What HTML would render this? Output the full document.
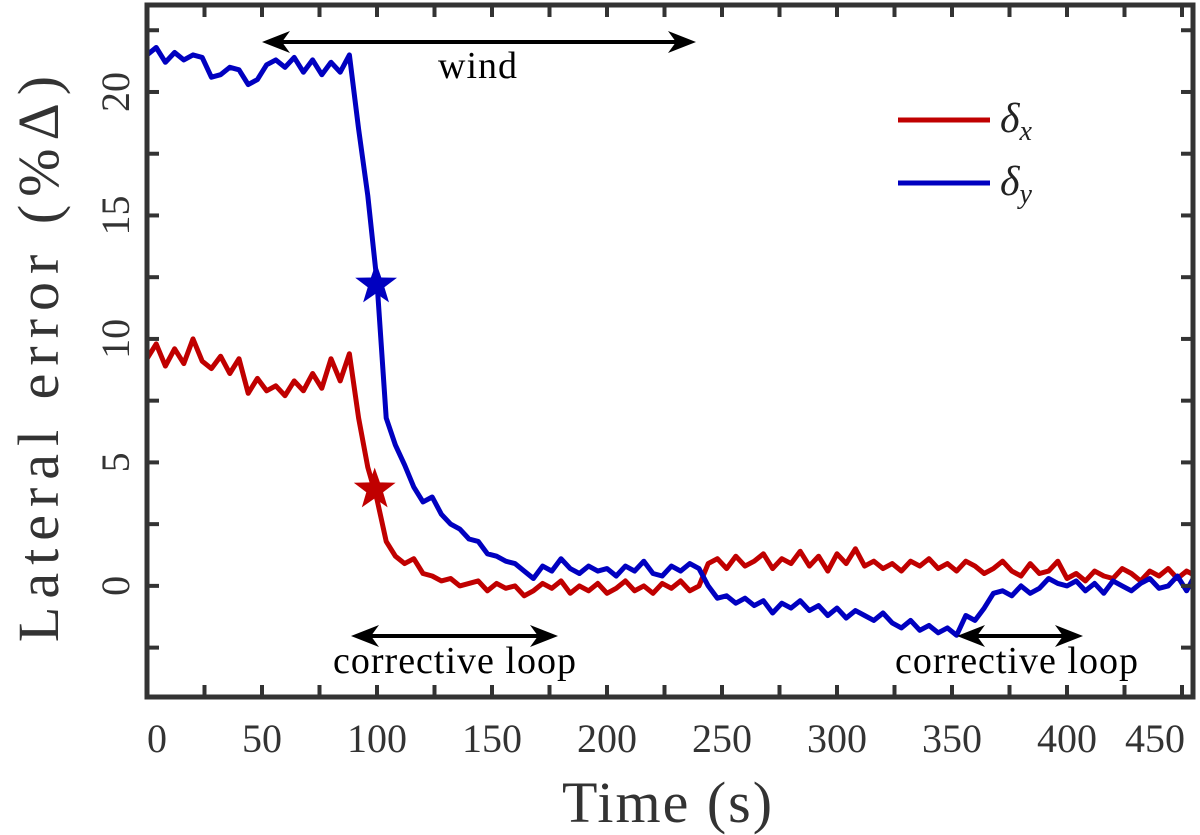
<!DOCTYPE html>
<html><head><meta charset="utf-8"><style>
html,body{margin:0;padding:0;background:#fff;}
svg, svg text{font-family:"Liberation Serif","DejaVu Serif",serif;}
svg{display:block;}
</style></head><body>
<svg id="chart" width="1200" height="835" viewBox="0 0 1200 835">
<defs><clipPath id="clip"><rect x="147" y="5" width="1046" height="692"/></clipPath></defs>
<g id="marks" clip-path="url(#clip)"></g>
<g id="axes"></g>
<g id="annot"></g>
</svg>
<script>
const tickX = [0,50,100,150,200,250,300,350,400,450];
const tickY = [0,5,10,15,20];
const stepT = 4;
const deltaY = [21.5,21.8,21.2,21.6,21.3,21.5,21.4,
20.6,20.7,21.0,20.9,20.3,20.5,21.1,
21.3,21.0,21.4,20.8,21.3,20.7,21.2,20.8,21.5,
18.5,15.8,12.3,6.8,5.7,4.9,4.0,3.4,3.6,2.9,2.5,2.3,1.9,1.8,1.3,1.2,1.0,0.9,0.6,0.3,0.8,0.6,1.1,0.7,0.5,0.8,0.6,0.7,0.4,0.8,0.6,1.0,0.5,0.4,0.8,0.6,0.9,0.7,
0.0,-0.5,-0.4,-0.7,-0.5,-0.8,-0.6,-1.1,-0.7,-0.9,-0.6,-1.0,-0.8,-1.2,-0.9,-1.3,-1.0,-1.2,-1.4,-1.1,-1.5,-1.7,-1.4,-1.8,-1.6,-1.9,-1.7,-2.0,
-1.2,-1.4,-0.9,-0.3,-0.2,-0.4,0.0,-0.3,-0.1,0.3,0.1,0.0,0.2,-0.2,0.1,-0.3,0.2,0.0,-0.2,0.1,0.3,-0.1,0.0,0.4,-0.2,0.5,0.1,-0.3,-0.7];
const deltaX = [9.2,9.8,8.9,9.6,9.0,10.0,9.1,
8.8,9.3,8.6,9.2,7.8,8.4,7.9,
8.1,7.7,8.3,7.9,8.6,8.0,9.2,8.3,9.4,
6.8,4.8,3.5,1.8,1.2,0.9,1.1,0.5,0.4,0.2,0.3,0.0,0.1,0.2,-0.2,0.1,-0.1,0.0,-0.4,-0.2,0.1,-0.1,0.2,-0.3,0.0,-0.2,0.1,-0.3,-0.1,0.2,-0.2,0.0,-0.3,0.1,-0.1,0.2,-0.2,0.0,
0.9,1.1,0.7,1.2,0.8,1.0,1.3,0.7,1.1,0.9,1.4,0.8,1.2,0.6,1.3,0.9,1.5,0.8,1.0,0.7,0.9,0.6,1.0,0.8,1.1,0.7,0.9,0.6,
1.0,0.8,0.5,0.7,1.0,0.6,0.4,0.9,0.5,0.6,1.0,0.3,0.5,0.2,0.6,0.4,0.3,0.7,0.5,0.2,0.6,0.4,0.7,0.3,0.6,0.4,0.7,0.5,0.2];
const starPoints = [[99.6,12.2,'#0000c0'],[99,3.9,'#c00000']];

const L=147,R=1193,T=5,B=697,X0=0,X1=(R-L)/2.3,Y0=-4.5,Y1=(586-5)/24.7;
const sx=t=>L+(t-X0)/(X1-X0)*(R-L);
const sy=v=>B-(v-Y0)/(Y1-Y0)*(B-T);
const NS='http://www.w3.org/2000/svg';
const FF='"Liberation Serif","DejaVu Serif",serif';
function mk(tag,attrs,parent,text){const e=document.createElementNS(NS,tag);for(const k in attrs)e.setAttribute(k,attrs[k]);if(tag==='text')e.setAttribute('font-family',FF);if(text!==undefined)e.textContent=text;parent.appendChild(e);return e;}
const marks=document.getElementById('marks'),axes=document.getElementById('axes'),annot=document.getElementById('annot');

function series(vals,color,name){
  const d=vals.map((v,i)=>(i?'L':'M')+sx(i*stepT).toFixed(1)+','+sy(v).toFixed(1)).join('');
  const p=mk('path',{d:d,fill:'none',stroke:color,'stroke-width':5,'stroke-linejoin':'round'},marks);
  
  
}
series(deltaX,'#c00000','delta-x-line');
series(deltaY,'#0000c0','delta-y-line');

function starPath(cx,cy,r){let s='';for(let i=0;i<10;i++){const a=-Math.PI/2+i*Math.PI/5;const rr=i%2?r*0.4:r;s+=(i?'L':'M')+(cx+rr*Math.cos(a)).toFixed(1)+','+(cy+rr*Math.sin(a)).toFixed(1);}return s+'Z';}
starPoints.forEach((s,i)=>{
  const p=mk('path',{d:starPath(sx(s[0]),sy(s[1]),22),fill:s[2]},marks);
  
  
});

const box=mk('rect',{x:L,y:T,width:R-L,height:B-T,fill:'none',stroke:'#333','stroke-width':5},axes);


for(let t=0;t<=X1;t+=25){const x=sx(t);mk('line',{x1:x,y1:B,x2:x,y2:B-12,stroke:'#333','stroke-width':4},axes);mk('line',{x1:x,y1:T,x2:x,y2:T+12,stroke:'#333','stroke-width':4},axes);}
for(let v=-2.5;v<=Y1;v+=2.5){const y=sy(v);mk('line',{x1:L,y1:y,x2:L+12,y2:y,stroke:'#333','stroke-width':4},axes);mk('line',{x1:R,y1:y,x2:R-12,y2:y,stroke:'#333','stroke-width':4},axes);}
tickX.forEach(t=>{
  let x=sx(t); if(t===0)x+=10; if(t===450)x=1155;
  const e=mk('text',{x:x,y:752,'text-anchor':'middle','font-size':40,fill:'#333'},axes,String(t));
  
  
});
tickY.forEach(v=>{
  const y=sy(v);
  const e=mk('text',{x:0,y:0,transform:`translate(129,${y}) rotate(-90)`,'text-anchor':'middle','font-size':40,fill:'#333'},axes,String(v));
  
  
});
const xt=mk('text',{x:668,y:822,'text-anchor':'middle','font-size':58,'letter-spacing':2,fill:'#333'},axes,'Time (s)');


const yt=mk('text',{x:0,y:0,transform:'translate(58,355) rotate(-90)','text-anchor':'middle','font-size':58,'letter-spacing':8,fill:'#333'},axes,'Lateral error (%Δ)');



function arrow(x1,x2,y,name){
  const g=mk('g',{},annot);
  
  
  mk('line',{x1:x1+8,y1:y,x2:x2-8,y2:y,stroke:'#000','stroke-width':4},g);
  mk('path',{d:`M${x1},${y}L${x1+28},${y-11}L${x1+20},${y}L${x1+28},${y+11}Z`,fill:'#000'},g);
  mk('path',{d:`M${x2},${y}L${x2-28},${y-11}L${x2-20},${y}L${x2-28},${y+11}Z`,fill:'#000'},g);
}
arrow(262,696,42,'wind-arrow');
arrow(351,558,636,'corrective-loop-arrow-1');
arrow(957,1083,636,'corrective-loop-arrow-2');
[['wind',478,78,'wind-label'],['corrective loop',455,673,'corrective-loop-label-1'],['corrective loop',1017,673,'corrective-loop-label-2']].forEach(a=>{
  const e=mk('text',{x:a[1],y:a[2],'text-anchor':'middle','font-size':38,'letter-spacing':1,fill:'#000'},annot,a[0]);
  
  
});
[['#c00000',120,'x','legend-delta-x'],['#0000c0',183,'y','legend-delta-y']].forEach(l=>{
  const g=mk('g',{},annot);
  
  
  mk('line',{x1:898,y1:l[1],x2:990,y2:l[1],stroke:l[0],'stroke-width':5},g);
  const t=mk('text',{x:1000,y:l[1]+12,'font-size':42,'font-style':'italic',fill:'#222'},g,'δ');
  mk('tspan',{'font-size':28,dy:8},t,l[2]);
});
</script>
</body></html>
